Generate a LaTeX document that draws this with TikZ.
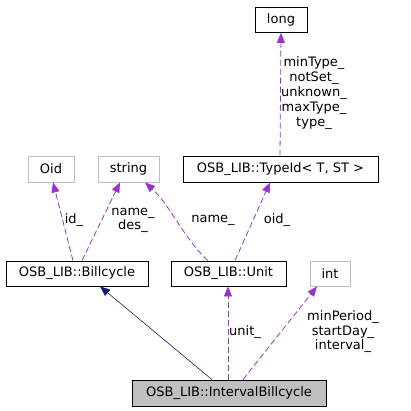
\documentclass[tikz,border=0pt]{standalone}
\usepackage{fontspec}
\setmainfont{DejaVu Sans}
\usetikzlibrary{positioning,arrows.meta}
\definecolor{memberpurple}{HTML}{9A32CD}
\definecolor{basenavy}{HTML}{191970}
\definecolor{extgray}{HTML}{BFBFBF}
\tikzset{
  cls/.style={draw=black, line width=0.8pt, minimum height=25pt, inner sep=0pt, font=\fontsize{13}{14}\selectfont},
  ext/.style={cls, draw=extgray},
  member/.style={memberpurple, line width=0.8pt, dash pattern=on 6pt off 3pt, -{Triangle[length=10pt,width=8pt]}},
  inherit/.style={basenavy, line width=0.6pt, -{Triangle[length=10pt,width=8pt]}},
  lbl/.style={align=center, inner sep=0pt, font=\fontsize{13}{14.5}\selectfont}
}
\begin{document}
\begin{tikzpicture}[x=1pt, y=-1pt]
    \useasboundingbox (0,0) rectangle (411,411);
    \node [cls, minimum width=52pt] (long) at (281,20) {long};
    \node [cls, minimum width=195pt, minimum height=26pt] (typeid) at (280.5,169) {OSB\_LIB::TypeId< T, ST >};
    \node [ext, minimum width=46pt, minimum height=26pt] (oid) at (51,169) {Oid};
    \node [ext, minimum width=61pt, minimum height=26pt] (string) at (128.5,169) {string};
    \node [cls, minimum width=142pt] (billcycle) at (77,273.5) {OSB\_LIB::Billcycle};
    \node [cls, minimum width=115pt] (unit) at (228.5,273.5) {OSB\_LIB::Unit};
    \node [ext, minimum width=40pt] (int) at (330,273.5) {int};
    \node [cls, fill=extgray, minimum width=194pt, minimum height=26pt] (interval) at (229,393) {OSB\_LIB::IntervalBillcycle};

    \draw [member] ([xshift=-0.5pt]typeid.north) -- (long.south);
    \draw [member] ([xshift=-4pt]billcycle.north) -- ([xshift=2pt]oid.south);
    \draw [member] ([xshift=5pt]billcycle.north) -- ([xshift=-8.5pt]string.south);
    \draw [member] ([xshift=-20.5pt]unit.north) .. controls (185,240) and (170,205) .. ([xshift=16.5pt]string.south);
    \draw [member] ([xshift=6.5pt]unit.north) -- ([xshift=-10.5pt]typeid.south);
    \draw [member] ([xshift=-1pt]interval.north) -- ([xshift=-0.5pt]unit.south);
    \draw [member] ([xshift=14pt]interval.north) -- ([xshift=-13pt]int.south);
    \draw [inherit] ([xshift=-17pt]interval.north) -- ([xshift=23pt]billcycle.south);

    \node [lbl, font=\fontsize{13}{15}\selectfont] (longlbl) at (314,93) {minType\_\\notSet\_\\unknown\_\\maxType\_\\type\_};
    \node [lbl] (idlbl) at (74,220) {id\_};
    \node [lbl, font=\fontsize{13}{13.5}\selectfont] (strlbl) at (133,220.5) {name\_\\des\_};
    \node [lbl] (namelbl) at (213,220) {name\_};
    \node [lbl] (oidlbl) at (277,220) {oid\_};
    \node [lbl] (unitlbl) at (245,332) {unit\_};
    \node [lbl] (intlbl) at (343,332) {minPeriod\_\\startDay\_\\interval\_};
\end{tikzpicture}
\end{document}
